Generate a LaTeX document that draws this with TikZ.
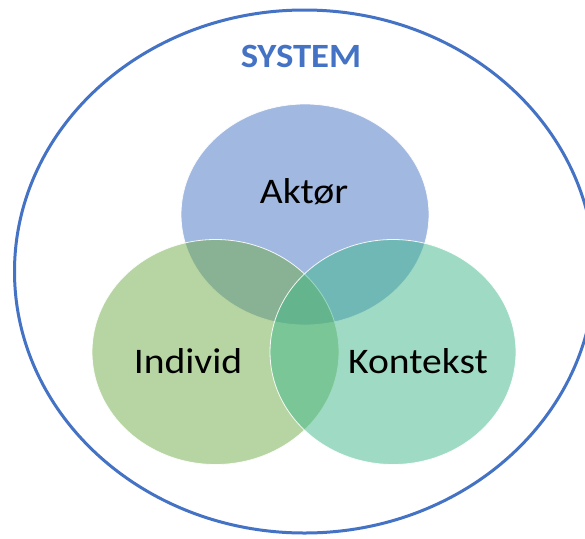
\documentclass[tikz,border=0pt]{standalone}
\usepackage{fontspec}
\setmainfont{Carlito}
\definecolor{sysblue}{HTML}{4472C4}
\definecolor{cblue}{HTML}{4472C4}
\definecolor{cgreen}{HTML}{70AD47}
\definecolor{cteal}{HTML}{41B98B}
\begin{document}
\begin{tikzpicture}[x=1pt,y=-1pt,
  venn/.style={draw=white, line width=0.8pt, fill opacity=0.5, draw opacity=0.9},
  lbl/.style={font=\fontsize{36}{40}\selectfont, text=black, inner sep=0pt, anchor=base}]
\useasboundingbox (0,0) rectangle (585,538);
\fill[white] (0,0) rectangle (585,538);
\begin{scope}
\clip (0,0) rectangle (585,538);
\draw[sysblue, line width=3pt] (304.5,271.5) ellipse [x radius=290, y radius=261.5];
\end{scope}
\path[venn, fill=cblue] (305,214.5) ellipse [x radius=124, y radius=110.5];
\path[venn, fill=cgreen] (215.5,352) ellipse [x radius=123.5, y radius=112.5];
\path[venn, fill=cteal] (393,352) ellipse [x radius=123, y radius=112.5];
\node[font=\fontsize{34}{38}\selectfont\bfseries, text=sysblue, inner sep=0pt, anchor=base] (sys) at (301,67) {\scalebox{1.08}[1]{SYSTEM}};
\node[lbl] (akt) at (304,203) {\scalebox{1.1}[1]{Aktør}};
\node[lbl] (ind) at (188,373) {\scalebox{1.1}[1]{Individ}};
\node[lbl] (kon) at (418,373) {\scalebox{1.1}[1]{Kontekst}};
\end{tikzpicture}
\end{document}
